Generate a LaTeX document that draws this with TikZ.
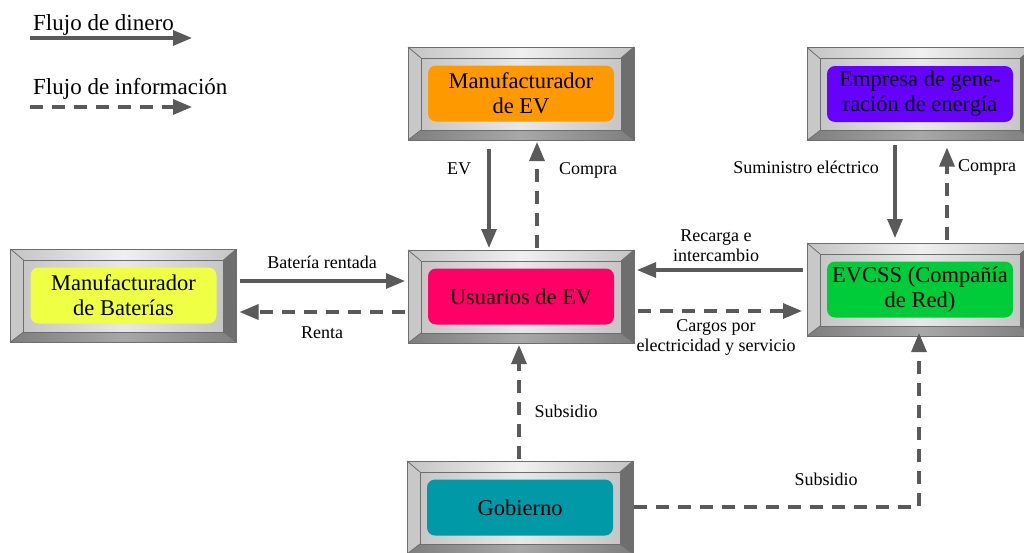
\documentclass[tikz,border=0pt]{standalone}
\usepackage{fontspec}
\setmainfont{Liberation Serif}
\usetikzlibrary{calc,arrows.meta}

\definecolor{arr}{HTML}{5A5A5A}
\definecolor{edgegray}{HTML}{6E6E6E}
\definecolor{faceSide}{HTML}{C4C4C4}
\definecolor{faceTop}{HTML}{F0F0F0}
\definecolor{faceLeft}{HTML}{C8C8C8}
\definecolor{faceRight}{HTML}{6E6E6E}
\definecolor{faceBotSide}{HTML}{7E7E7E}
\definecolor{faceBot}{HTML}{A8A8A8}
\definecolor{panelSide}{HTML}{C6C6C6}
\definecolor{panelMid}{HTML}{E8E8E8}
\definecolor{cOrange}{HTML}{FF9900}
\definecolor{cPurple}{HTML}{6600FF}
\definecolor{cYellow}{HTML}{EEFF44}
\definecolor{cPink}{HTML}{FF0066}
\definecolor{cGreen}{HTML}{00CC3A}
\definecolor{cTeal}{HTML}{0099A8}

\tikzset{
  frame/.style={rectangle, minimum width=226pt, minimum height=93pt, inner sep=0pt, outer sep=0pt},
  inbox/.style={rectangle, rounded corners=8pt, minimum width=186pt, minimum height=56pt,
    align=center, inner sep=0pt, font=\fontsize{22.5}{25}\selectfont},
  edge/.style={draw=edgegray, line width=0.8pt},
  money/.style={draw=arr, line width=3.2pt, -{Triangle[length=19pt,width=15pt]}},
  info/.style={money, dash pattern=on 13pt off 9pt},
  lbl/.style={font=\fontsize{18}{20}\selectfont, align=center, inner sep=0pt},
  legend/.style={font=\fontsize{23}{25}\selectfont, inner sep=0pt, anchor=base west},
}

% bevelled grey frame around a frame node
\newcommand\bevelframe[1]{%
  \path (#1.north west) coordinate (#1-o1) (#1.north east) coordinate (#1-o2)
        (#1.south east) coordinate (#1-o3) (#1.south west) coordinate (#1-o4);
  \path ($(#1.north west)+(13,11)$) coordinate (#1-i1)
        ($(#1.north east)+(-13,11)$) coordinate (#1-i2)
        ($(#1.south east)+(-13,-10)$) coordinate (#1-i3)
        ($(#1.south west)+(13,-10)$) coordinate (#1-i4);
  \shade[left color=faceSide, right color=faceSide, middle color=faceTop]
    (#1-o1) -- (#1-o2) -- (#1-i2) -- (#1-i1) -- cycle;
  \fill[faceLeft] (#1-o1) -- (#1-i1) -- (#1-i4) -- (#1-o4) -- cycle;
  \fill[faceRight] (#1-o2) -- (#1-o3) -- (#1-i3) -- (#1-i2) -- cycle;
  \shade[left color=faceBotSide, right color=faceBotSide, middle color=faceBot]
    (#1-o4) -- (#1-i4) -- (#1-i3) -- (#1-o3) -- cycle;
  \shade[left color=panelSide, right color=panelSide, middle color=panelMid]
    (#1-i1) rectangle (#1-i3);
  \draw[edge] (#1-o1) rectangle (#1-o3);
  \draw[edge] (#1-i1) rectangle (#1-i3);
  \draw[edge] (#1-o1) -- (#1-i1) (#1-o2) -- (#1-i2) (#1-o3) -- (#1-i3) (#1-o4) -- (#1-i4);
}

\begin{document}
\begin{tikzpicture}[x=1pt, y=-1pt]
\useasboundingbox (0,0) rectangle (1024,552);
\fill[white] (0,0) rectangle (1024,552);

% frames
\node[frame] (mfev)  at (521,93.5) {};
\node[frame] (emp)   at (920,94)   {};
\node[frame] (bat)   at (123.5,295.5) {};
\node[frame] (usr)   at (521,296.5) {};
\node[frame] (evcss) at (920,289.5) {};
\node[frame] (gob)   at (520,507.5) {};
\bevelframe{mfev}
\bevelframe{emp}
\bevelframe{bat}
\bevelframe{usr}
\bevelframe{evcss}
\bevelframe{gob}

% coloured panels
\node[inbox, fill=cOrange] (mfev-in)  at (mfev)  {Manufacturador\\de EV};
\node[inbox, fill=cPurple] (emp-in)   at (emp)   {Empresa de gene-\\ración de energía};
\node[inbox, fill=cYellow] (bat-in)   at (bat)   {Manufacturador\\de Baterías};
\node[inbox, fill=cPink]   (usr-in)   at (usr)   {Usuarios de EV};
\node[inbox, fill=cGreen]  (evcss-in) at (evcss) {EVCSS (Compañía\\de Red)};
\node[inbox, fill=cTeal]   (gob-in)   at (gob)   {Gobierno};

% legend
\node[legend] (lg1) at (33,30) {Flujo de dinero};
\coordinate (lg1a) at (30,38);
\coordinate (lg1b) at (192,38);
\draw[money] (lg1a) -- (lg1b);
\node[legend] (lg2) at (33,94) {Flujo de información};
\coordinate (lg2a) at (30,107);
\coordinate (lg2b) at (192,107);
\draw[info] (lg2a) -- (lg2b);

% flows between manufacturer of EV and users
\draw[money] ($(mfev.south)+(-32,9)$) -- ($(usr.north)+(-32,-2)$);
\draw[info]  ($(usr.north)+(16,-2)$) -- ($(mfev.south)+(16,2)$);

% flows between battery manufacturer and users
\draw[money] ($(bat.east)+(3,-14.5)$) coordinate (b1) -- ($(b1 -| usr.west)+(-3,0)$);
\draw[info]  ($(usr.west)+(-3,15.5)$) coordinate (b2) -- ($(b2 -| bat.east)+(3,0)$);

% flows between charging station company and users
\draw[money] ($(evcss.west)+(-4,-19.5)$) coordinate (r1) -- ($(r1 -| usr.east)+(3,0)$);
\draw[info]  ($(usr.east)+(4,14.5)$) coordinate (c1) -- ($(c1 -| evcss.west)+(-5,0)$);

% flows between energy company and charging station company
\draw[money] ($(emp.south)+(-25,4)$) coordinate (s1) -- ($(s1 |- evcss.north)+(0,-5)$);
\draw[info]  ($(evcss.north)+(27,-3)$) coordinate (k1) -- ($(k1 |- emp.south)+(0,7)$);

% subsidies
\draw[info] ($(gob.north)+(-1,-2)$) coordinate (g1) -- ($(g1 |- usr.south)+(0,2)$);
\draw[info] ($(gob.east)+(1,-0.5)$) -| ($(evcss.south)+(-1,-3)$);

% labels
\node[lbl] (l-ev)      at (459,169) {EV};
\node[lbl] (l-compra1) at (588,170) {Compra};
\node[lbl] (l-sum)     at (806,167) {Suministro eléctrico};
\node[lbl] (l-compra2) at (987,167) {Compra};
\node[lbl] (l-bat)     at (322,262) {Batería rentada};
\node[lbl] (l-renta)   at (322,333) {Renta};
\node[lbl] (l-rec)     at (716,246) {Recarga e\\intercambio};
\node[lbl] (l-car)     at (716,337) {Cargos por\\electricidad y servicio};
\node[lbl] (l-sub1)    at (566,411) {Subsidio};
\node[lbl] (l-sub2)    at (826,479) {Subsidio};
\end{tikzpicture}
\end{document}
